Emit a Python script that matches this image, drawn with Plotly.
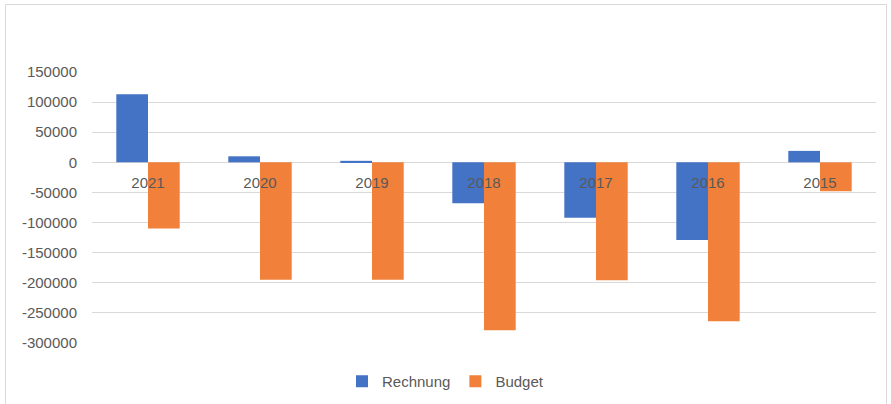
import plotly.graph_objects as go

years = ["2021", "2020", "2019", "2018", "2017", "2016", "2015"]
rechnung = [113000, 10000, 2500, -68000, -92000, -129000, 19000]
budget = [-110000, -195000, -195000, -279000, -196000, -264000, -48000]
y_ticks = [150000, 100000, 50000, 0, -50000, -100000, -150000, -200000, -250000, -300000]

W, H = 891, 404
L, R, T, B = 92, 15, 72, 61
pw, ph = W - L - R, H - T - B
ymin, ymax = -300000, 150000

font_fam = "Liberation Sans, Arial, sans-serif"
txt = "#595959"

fig = go.Figure()
fig.add_trace(go.Bar(x=years, y=rechnung, name="Rechnung", marker=dict(color="#4472C4", line=dict(width=0))))
fig.add_trace(go.Bar(x=years, y=budget, name="Budget", marker=dict(color="#F0803A", line=dict(width=0))))

def px_x(p):
    return (p - L) / pw

def px_y(p):
    return 1 - (p - T) / ph

fig.update_layout(
    width=W, height=H,
    margin=dict(l=L, r=R, t=T, b=B, pad=0, autoexpand=False),
    paper_bgcolor="white", plot_bgcolor="white",
    barmode="group", bargap=0.434, bargroupgap=0,
    font=dict(family=font_fam, size=15, color=txt),
    showlegend=True,
    legend=dict(orientation="h", xref="container", yref="container",
                x=0.5, xanchor="center", y=1 - 381.5 / H, yanchor="middle",
                font=dict(family=font_fam, size=15, color=txt), itemsizing="constant",
                itemwidth=30, tracegroupgap=0,
                bgcolor="rgba(0,0,0,0)"),
    xaxis=dict(anchor="free", position=(0 - ymin) / (ymax - ymin), showgrid=False,
               showline=False, ticks="", tickfont=dict(family=font_fam, size=15, color=txt),
               layer="above traces", ticklabelstandoff=10, automargin=False),
    yaxis=dict(range=[ymin, ymax], tickvals=y_ticks, ticktext=[str(v) for v in y_ticks],
               showgrid=True, gridcolor="#D9D9D9", gridwidth=1, zeroline=True,
               zerolinecolor="#D9D9D9", zerolinewidth=1, showline=False, ticks="",
               tickfont=dict(family=font_fam, size=15, color=txt), ticklabelstandoff=14,
               automargin=False),
    shapes=[dict(type="rect", xref="paper", yref="paper",
                 x0=px_x(5.5), x1=px_x(886.5), y0=px_y(4.5), y1=px_y(420),
                 line=dict(color="#D9D9D9", width=1), fillcolor="rgba(0,0,0,0)", layer="below")],
)

fig.write_html("out.html", config={"displayModeBar": False},
               post_script="document.body.style.margin='0';document.body.style.padding='0';")
